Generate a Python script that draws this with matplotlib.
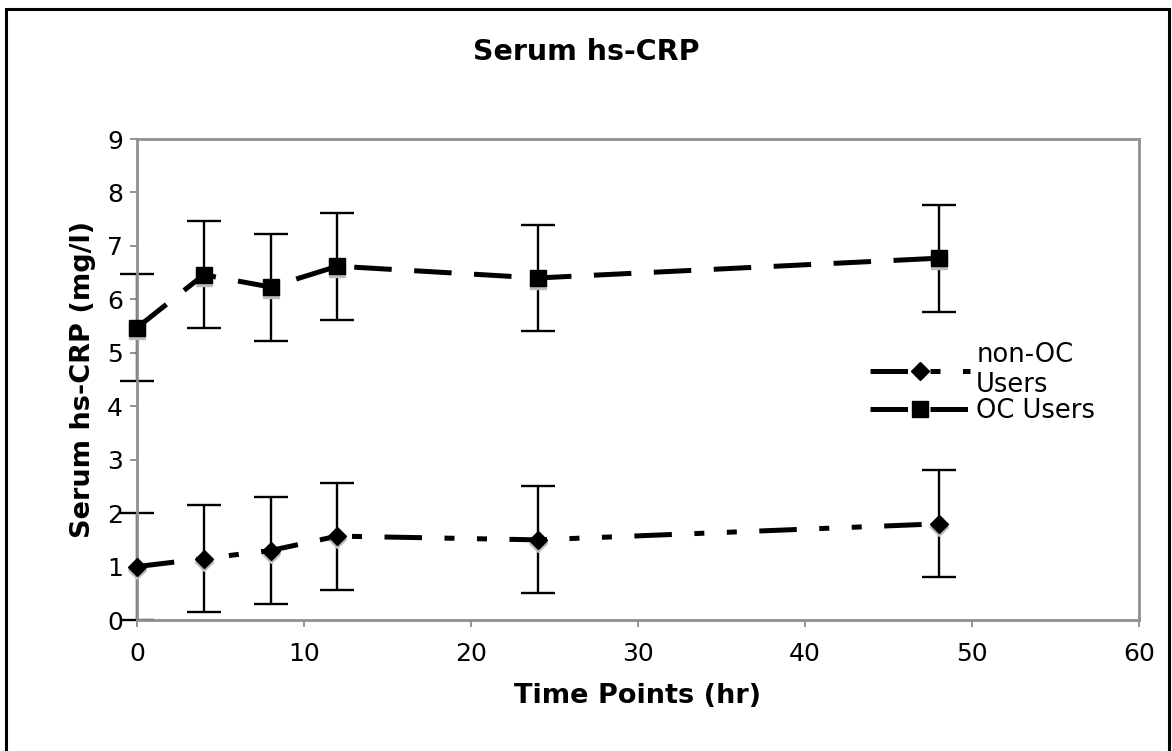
import matplotlib.pyplot as plt
import matplotlib.patches as mpatches
import matplotlib.transforms as mtransforms

# data
hours = [0, 4, 8, 12, 24, 48]
oc_users = [5.47, 6.46, 6.23, 6.62, 6.40, 6.77]
oc_err = [1.0, 1.0, 1.0, 1.0, 1.0, 1.0]
non_oc_users = [1.00, 1.15, 1.30, 1.57, 1.50, 1.80]
non_oc_err = [1.0, 1.0, 1.0, 1.0, 1.0, 1.0]
x_ticks = [0, 10, 20, 30, 40, 50, 60]
y_ticks = [0, 1, 2, 3, 4, 5, 6, 7, 8, 9]

plt.rcParams['font.family'] = ['DejaVu Sans']
fig = plt.figure(figsize=(11.72, 7.51), dpi=100)
ax = fig.add_axes([0.1169, 0.1744, 0.8549, 0.6405])

# outer chart frame
fig.patches.append(mpatches.Rectangle((6 / 1172, -0.01), 1163 / 1172, 1 - 9 / 751 + 0.01,
                                      transform=fig.transFigure, fill=False,
                                      edgecolor='black', linewidth=2.2))

shadow = ax.transData + mtransforms.ScaledTranslation(0, -3 / 100, fig.dpi_scale_trans)

ax.errorbar(hours, non_oc_users, yerr=non_oc_err, fmt='none', ecolor='black',
            elinewidth=1.7, capsize=12, capthick=1.7, clip_on=False, zorder=2)
ax.errorbar(hours, oc_users, yerr=oc_err, fmt='none', ecolor='black',
            elinewidth=1.7, capsize=12, capthick=1.7, clip_on=False, zorder=2)

# grey drop shadows under markers
ax.plot(hours, non_oc_users, 'D', color='#bdbdbd', markersize=9, transform=shadow,
        clip_on=False, zorder=3)
ax.plot(hours, oc_users, 's', color='#bdbdbd', markersize=11, transform=shadow,
        clip_on=False, zorder=3)

ax.plot(hours, non_oc_users, color='black', linewidth=3.6,
        linestyle=(0, (7.5, 4.5, 2, 4.5, 2, 4.5)),
        marker='D', markersize=9, clip_on=False, zorder=4, label='non-OC\nUsers')
ax.plot(hours, oc_users, color='black', linewidth=3.6, linestyle=(0, (7.5, 4.5)),
        marker='s', markersize=11, clip_on=False, zorder=4, label='OC Users')

ax.set_xlim(0, 60)
ax.set_ylim(0, 9)
ax.set_xticks(x_ticks)
ax.set_yticks(y_ticks)
ax.tick_params(axis='both', direction='out', length=5, width=1.2, color='#808080',
               labelsize=18, pad=5)
ax.tick_params(axis='x', pad=11)
for sp in ax.spines.values():
    sp.set_color('#909090')
    sp.set_linewidth(2)

ax.set_xlabel('Time Points (hr)', fontsize=19.5, fontweight='bold', labelpad=12)
ax.set_ylabel('Serum hs-CRP (mg/l)', fontsize=19.5, fontweight='bold', labelpad=8)
fig.text(0.5, 0.931, 'Serum hs-CRP', ha='center', va='center', fontsize=20.5,
         fontweight='bold')

ax.legend(loc='center left', bbox_to_anchor=(0.731, 0.49), bbox_transform=fig.transFigure,
          frameon=False, fontsize=18.5, handlelength=3.9, handletextpad=0.25,
          borderpad=0, labelspacing=0.0)

fig.savefig('out.png', dpi=100)
